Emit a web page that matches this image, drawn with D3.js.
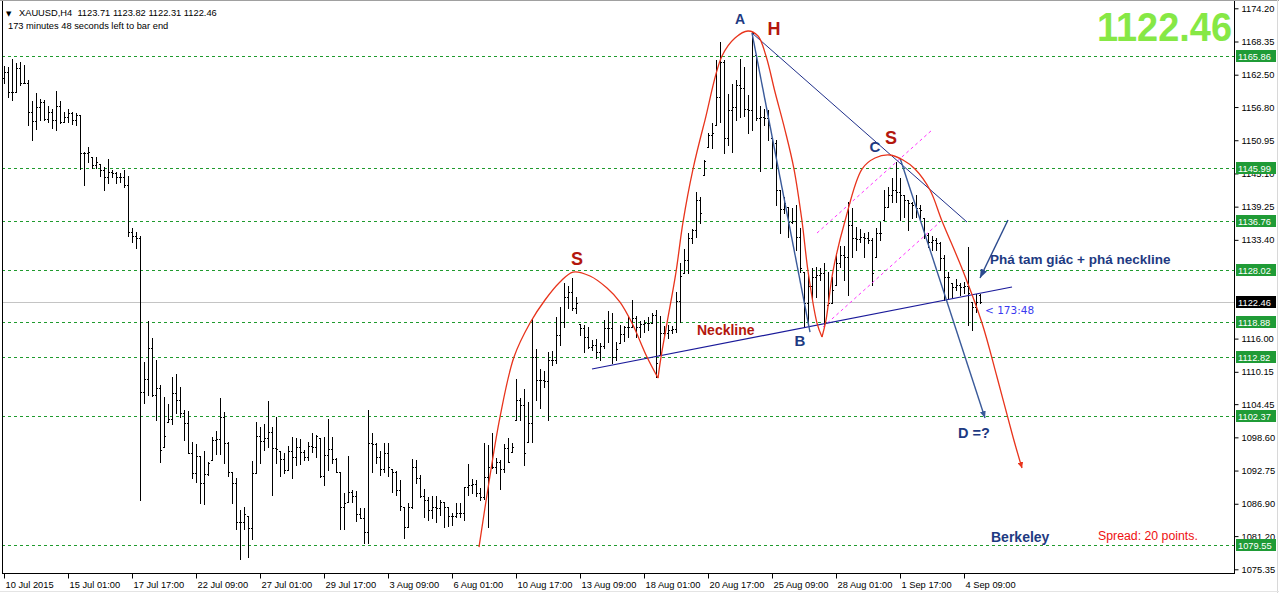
<!DOCTYPE html>
<html><head><meta charset="utf-8">
<script src="https://cdn.jsdelivr.net/npm/d3@7"></script>
<style>body{margin:0;background:#fff;overflow:hidden}svg{display:block}</style>
</head><body><svg id="c" width="1279" height="593"></svg>
<script>
// ---------- DATA (XAUUSD H4) ----------
const opens=[1161.92,1162.97,1159.45,1159.45,1163.68,1161.04,1161.04,1155.92,1154.34,1156.81,
1157.69,1154.69,1155.92,1154.51,1156.98,1154.16,1155.04,1155.75,1154.51,1155.40,
1148.70,1148.70,1147.99,1146.59,1146.76,1145.70,1144.47,1145.35,1145.18,1144.47,
1144.47,1143.06,1134.78,1134.07,1133.72,1106.59,1108.88,1114.34,1106.06,1107.29,
1096.89,1101.30,1101.83,1106.41,1105.18,1102.88,1101.12,1095.84,1092.31,1095.31,
1090.55,1092.14,1094.60,1098.13,1098.30,1102.18,1097.60,1092.49,1090.55,1083.68,
1083.68,1084.74,1082.62,1092.31,1098.83,1097.95,1098.48,1099.54,1096.72,1096.19,
1094.78,1092.84,1096.19,1095.13,1096.89,1096.01,1095.13,1097.07,1096.89,1098.48,
1091.78,1095.48,1096.54,1094.78,1092.49,1086.32,1087.20,1088.96,1088.26,1085.09,
1084.38,1081.92,1097.60,1097.42,1095.13,1093.02,1095.84,1093.02,1092.49,1089.32,
1086.32,1082.80,1086.32,1093.37,1091.43,1088.26,1087.56,1085.79,1086.32,1086.15,
1087.20,1086.32,1084.74,1084.74,1085.26,1085.26,1089.85,1090.20,1090.37,1088.79,
1088.08,1091.61,1093.37,1093.37,1094.25,1093.02,1096.72,1096.01,1101.65,1105.18,
1104.30,1097.78,1101.12,1112.75,1108.70,1108.70,1108.52,1112.22,1112.22,1116.63,
1118.92,1123.33,1124.21,1121.39,1118.57,1117.86,1116.28,1114.51,1114.87,1113.63,
1114.69,1117.86,1117.86,1112.75,1115.22,1116.81,1118.04,1118.04,1119.63,1118.04,
1118.57,1118.74,1118.74,1120.15,1113.10,1116.98,1116.98,1117.51,1117.69,1122.62,
1127.55,1129.85,1133.72,1135.13,1140.42,1144.82,1149.76,1151.87,1153.63,1158.57,
1164.74,1151.34,1156.28,1156.81,1160.68,1160.15,1156.45,1156.28,1165.97,1154.87,
1155.04,1154.87,1151.34,1150.46,1142.18,1138.83,1139.18,1136.54,1136.72,1133.90,
1127.73,1122.27,1125.26,1126.85,1127.20,1127.55,1121.92,1122.27,1125.44,1129.32,
1130.73,1130.37,1136.01,1133.72,1133.55,1133.90,1133.72,1133.37,1130.37,1134.60,
1136.89,1139.18,1141.30,1142.18,1141.83,1141.30,1140.42,1139.89,1139.54,1139.01,
1137.25,1134.25,1133.02,1133.37,1132.84,1130.20,1126.85,1125.79,1125.09,1125.44,
1125.09,1125.26,1122.44,1121.56,1123.71];
const highs=[1164.03,1163.85,1165.26,1164.56,1164.74,1164.21,1161.56,1157.86,1159.27,1158.21,
1158.04,1156.98,1156.45,1159.62,1157.86,1155.92,1156.45,1155.92,1155.75,1155.40,
1148.88,1149.76,1147.99,1147.99,1146.76,1146.23,1147.64,1145.70,1145.35,1145.18,
1145.70,1144.65,1135.48,1134.78,1134.07,1111.87,1119.10,1116.10,1112.22,1107.82,
1105.70,1104.47,1109.23,1109.76,1107.47,1103.41,1103.24,1097.78,1097.42,1095.31,
1096.19,1094.25,1098.66,1099.71,1105.53,1103.06,1097.78,1092.49,1091.43,1085.79,
1086.32,1084.74,1094.43,1101.30,1100.42,1100.95,1105.00,1100.42,1102.18,1096.19,
1095.84,1097.07,1098.66,1098.48,1098.30,1096.37,1097.78,1099.36,1099.01,1098.48,
1098.66,1101.83,1098.66,1094.96,1092.49,1088.79,1095.31,1089.32,1089.14,1086.15,
1086.15,1103.41,1099.36,1097.60,1096.19,1097.60,1097.60,1093.02,1092.67,1091.08,
1086.32,1087.03,1094.78,1094.60,1091.96,1089.49,1088.08,1088.26,1088.26,1087.56,
1087.20,1086.32,1085.26,1087.03,1087.03,1089.85,1093.90,1091.26,1091.08,1089.67,
1097.60,1097.25,1099.36,1094.96,1094.60,1097.42,1098.48,1097.60,1108.88,1105.53,
1107.11,1104.82,1119.45,1114.16,1110.64,1110.29,1113.63,1113.81,1119.80,1121.56,
1125.79,1125.26,1126.67,1123.33,1118.57,1118.39,1118.04,1115.75,1115.92,1115.22,
1119.27,1120.86,1120.51,1115.40,1118.39,1118.22,1119.80,1122.80,1119.98,1119.10,
1119.27,1119.80,1120.51,1121.04,1119.98,1118.22,1118.39,1118.22,1124.21,1129.32,
1131.78,1134.60,1135.31,1141.83,1140.95,1147.47,1152.22,1153.99,1165.09,1168.26,
1165.09,1159.10,1160.86,1161.56,1165.26,1163.85,1158.92,1170.02,1165.97,1156.98,
1156.45,1156.28,1151.34,1150.99,1142.18,1140.95,1139.18,1139.01,1139.54,1135.48,
1127.73,1127.55,1128.44,1128.61,1128.44,1129.32,1127.73,1126.85,1131.08,1132.31,
1132.31,1140.07,1139.01,1135.66,1135.31,1134.60,1134.78,1133.72,1135.48,1136.54,
1142.18,1142.71,1144.29,1147.11,1144.29,1141.30,1140.42,1140.07,1141.30,1139.54,
1137.25,1134.60,1134.07,1133.72,1133.02,1130.73,1127.73,1125.79,1126.50,1125.79,
1125.97,1132.14,1122.44,1123.85,1123.82];
const lows=[1161.04,1158.57,1158.04,1159.45,1160.68,1161.04,1153.63,1150.99,1152.93,1154.51,
1154.51,1154.16,1153.11,1152.75,1153.99,1154.16,1154.16,1153.81,1153.63,1145.88,
1143.06,1147.11,1146.06,1146.06,1144.65,1142.18,1143.41,1144.47,1143.41,1143.59,
1142.71,1134.07,1133.02,1131.96,1087.56,1104.65,1106.06,1105.88,1101.65,1094.25,
1096.89,1101.30,1100.95,1102.88,1102.18,1098.13,1095.84,1091.43,1090.73,1087.03,
1086.85,1091.96,1094.60,1095.66,1095.66,1094.07,1091.78,1087.03,1082.44,1077.16,
1082.44,1077.51,1080.68,1092.31,1094.07,1096.37,1096.89,1088.44,1094.07,1091.78,
1092.31,1092.84,1091.43,1093.72,1093.90,1094.60,1094.60,1096.01,1095.13,1091.61,
1090.20,1092.84,1094.07,1092.49,1082.44,1082.44,1087.20,1087.20,1083.85,1084.38,
1079.98,1079.98,1092.49,1094.07,1091.96,1092.49,1091.78,1088.96,1088.44,1085.79,
1080.86,1082.80,1086.15,1090.55,1088.08,1084.56,1084.03,1084.38,1083.68,1084.91,
1082.80,1082.97,1083.15,1084.56,1084.56,1084.03,1088.44,1088.79,1088.26,1087.56,
1087.73,1082.80,1093.19,1092.31,1089.49,1092.49,1094.25,1096.01,1101.65,1101.65,
1093.72,1097.78,1097.78,1105.18,1103.77,1107.47,1101.65,1111.34,1111.70,1114.87,
1118.04,1121.39,1121.04,1120.51,1116.63,1113.63,1114.34,1113.99,1112.58,1112.22,
1114.34,1115.40,1111.70,1112.22,1115.22,1115.57,1116.28,1118.04,1116.28,1116.28,
1117.16,1117.51,1118.74,1109.23,1113.10,1116.28,1116.10,1116.98,1117.16,1118.92,
1127.55,1127.55,1132.84,1133.90,1136.37,1144.82,1149.76,1149.58,1153.63,1154.16,
1148.70,1150.11,1148.88,1154.51,1155.04,1155.22,1152.22,1152.75,1154.51,1145.53,
1153.63,1150.99,1146.06,1139.54,1134.60,1138.13,1133.90,1136.37,1131.61,1127.73,
1118.04,1118.39,1122.80,1123.33,1126.32,1118.39,1121.92,1122.27,1125.44,1128.61,
1126.32,1123.68,1130.37,1131.61,1133.02,1130.37,1132.84,1125.44,1130.37,1133.37,
1136.89,1139.18,1140.07,1140.07,1136.89,1137.42,1135.13,1137.25,1137.42,1136.89,
1133.72,1132.14,1131.61,1131.61,1128.08,1122.80,1123.15,1123.33,1124.56,1123.68,
1124.03,1118.39,1117.51,1120.68,1122.31];
const closes=[1162.97,1159.45,1159.45,1163.68,1161.04,1161.04,1155.92,1154.34,1156.81,1157.69,
1154.69,1155.92,1154.51,1156.98,1154.16,1155.04,1155.75,1154.51,1155.40,1148.70,
1148.70,1148.88,1146.59,1147.11,1145.70,1144.47,1145.35,1145.18,1144.47,1144.47,
1143.06,1134.78,1134.07,1133.72,1106.59,1108.88,1114.34,1106.06,1107.29,1096.37,
1098.83,1101.83,1106.41,1105.18,1102.88,1101.12,1095.84,1092.31,1095.31,1090.55,
1092.14,1094.07,1098.13,1098.30,1102.18,1097.60,1092.49,1090.55,1083.68,1083.68,
1085.09,1082.62,1092.31,1098.83,1097.95,1098.48,1099.54,1096.72,1096.54,1094.78,
1092.84,1096.19,1095.13,1096.89,1096.01,1095.13,1097.07,1096.89,1098.83,1091.78,
1095.48,1096.54,1094.78,1092.49,1086.32,1087.03,1088.96,1088.26,1085.09,1084.38,
1081.92,1097.60,1097.42,1095.13,1093.02,1095.84,1093.37,1092.49,1089.32,1086.50,
1082.80,1086.32,1093.37,1091.43,1088.26,1087.56,1085.79,1086.32,1086.15,1087.20,
1086.32,1084.74,1084.74,1085.26,1085.26,1089.85,1090.20,1090.37,1088.79,1088.08,
1091.61,1093.37,1093.37,1094.25,1093.02,1096.72,1094.25,1096.89,1105.18,1104.30,
1095.84,1101.12,1112.75,1108.70,1108.70,1108.52,1112.22,1112.22,1116.63,1118.92,
1123.33,1124.21,1121.39,1122.27,1117.86,1116.28,1114.51,1114.87,1113.63,1114.69,
1117.86,1117.86,1112.75,1114.16,1116.81,1118.04,1118.04,1119.63,1118.04,1118.57,
1118.74,1118.74,1120.15,1111.70,1116.98,1116.98,1117.51,1117.69,1122.62,1127.03,
1129.85,1133.72,1135.13,1140.42,1138.13,1147.29,1151.87,1152.22,1158.57,1164.74,
1151.34,1156.28,1156.81,1160.68,1160.15,1156.45,1156.28,1169.85,1154.87,1155.04,
1154.87,1153.63,1150.46,1142.18,1138.83,1139.89,1136.54,1136.72,1133.90,1128.44,
1122.27,1125.26,1126.85,1127.20,1127.55,1118.92,1122.27,1124.56,1129.32,1130.73,
1130.37,1136.01,1133.72,1133.55,1133.90,1133.72,1133.37,1127.55,1134.60,1134.60,
1139.18,1141.30,1142.18,1141.83,1141.30,1140.42,1139.89,1139.54,1139.01,1138.66,
1134.25,1133.02,1133.37,1132.84,1130.20,1126.85,1126.85,1125.09,1125.44,1125.09,
1125.26,1124.03,1121.56,1122.44,1122.46];

const dateLabels=["10 Jul 2015","15 Jul 01:00","17 Jul 17:00","22 Jul 09:00","27 Jul 01:00","29 Jul 17:00","3 Aug 09:00","6 Aug 01:00","10 Aug 17:00","13 Aug 09:00","18 Aug 01:00","20 Aug 17:00","25 Aug 09:00","28 Aug 01:00","1 Sep 17:00","4 Sep 09:00"];
const dateTickBars=[0,16,32,48,64,80,96,112,128,144,160,176,192,208,224,240];
const priceTicks=[1174.20,1168.35,1162.50,1156.80,1150.95,1145.10,1139.25,1133.40,1116.00,1110.15,1104.45,1098.60,1092.75,1086.90,1081.20,1075.35];
const levels=[1165.86,1145.99,1136.76,1128.02,1118.88,1112.82,1102.37,1079.55];
const bid=1122.46;

// annotation anchors in (bar index, price)
const arcLeftS=[[118.75,1079.27],[121.25,1090.73],[124,1102.18],[127.5,1112.75],[131.5,1118.74],[135.25,1122.80],[139,1125.97],[142.25,1127.73],[146.5,1127.03],[150.75,1124.91],[154,1122.44],[157,1118.74],[160.75,1112.75],[163.5,1109.05]];
const arcHead=[[163.5,1109.05],[164.25,1112.75],[165.75,1118.74],[168,1127.73],[169.75,1136.54],[172.25,1145.88],[175.25,1154.51],[179.5,1165.79],[182.75,1168.96],[186,1170.20],[188.5,1169.32],[190.5,1165.79],[192.75,1159.45],[195.25,1152.75],[197.5,1145.88],[199.5,1136.72],[201,1127.91],[203.25,1118.74],[204.5,1116.28]];
const arcRightS=[[204.5,1116.28],[205.5,1119.27],[207.25,1127.91],[210.25,1136.72],[214.5,1145.88],[217.75,1147.82],[221.5,1148.35],[224.75,1147.47],[227.75,1145.88],[231.5,1142.18],[234.5,1136.72],[239.75,1127.91],[244.5,1118.74],[248.25,1109.23],[252.25,1098.66],[254.5,1093.19]];
const neckline=[[147,1110.64],[252,1125.09]];
const triangleTop=[[187,1169.85],[240.75,1136.54]];
const legAB=[[187,1169.85],[201.5,1117.16]];
const legCD=[[224,1147.82],[245.25,1102.00]];
const channelUp=[[203.25,1134.60],[232,1152.75]];
const channelLow=[[204.75,1118.04],[234,1136.54]];
const breakArrow=[[251,1136.89],[244,1126.67]];

// ---------- DRAW ----------
const svg=d3.select('#c');
const plotL=2,plotR=1234,plotT=1,plotB=573;
const x=d3.scaleLinear().domain([0,244]).range([4,980]);
const y=d3.scaleLinear().domain([1075.35,1174.20]).range([569.3,8.3]);
const F="'Liberation Sans', Arial, sans-serif";

const defs=svg.append('defs');
defs.append('clipPath').attr('id','clip').append('rect').attr('x',plotL+1).attr('y',plotT+1).attr('width',plotR-plotL-1).attr('height',plotB-plotT-1);
function marker(id,color,w,h){
  defs.append('marker').attr('id',id).attr('markerUnits','userSpaceOnUse').attr('markerWidth',w).attr('markerHeight',h)
    .attr('refX',w).attr('refY',h/2).attr('orient','auto')
    .append('path').attr('d',`M0,0L${w},${h/2}L0,${h}Z`).attr('fill',color);
}
marker('arB','#2b4a8e',9,7);
marker('arD','#3a5a9a',7,6);
marker('arR','#e8341c',6,6);

svg.append('rect').attr('width',1279).attr('height',593).attr('fill','#fff');

const plot=svg.append('g').attr('clip-path','url(#clip)');
plot.selectAll('line.lv').data(levels).join('line').attr('class','lv')
  .attr('x1',plotL).attr('x2',plotR).attr('y1',d=>Math.round(y(d))+0.5).attr('y2',d=>Math.round(y(d))+0.5)
  .attr('stroke','#1f9a2e').attr('stroke-dasharray','3,3').attr('stroke-width',1);
plot.append('line').attr('x1',plotL).attr('x2',plotR).attr('y1',Math.round(y(bid))+0.5).attr('y2',Math.round(y(bid))+0.5)
  .attr('stroke','#c4c4c4').attr('stroke-width',1);

const idx=d3.range(closes.length);
plot.append('g').selectAll('path').data(idx).join('path')
  .attr('d',i=>{const cx=Math.round(x(i));const X=cx+0.5;
    const yh=Math.round(y(highs[i])), yl=Math.round(y(lows[i]));
    const yo=Math.round(y(opens[i]))+0.5, yc=Math.round(y(closes[i]))+0.5;
    return `M${X},${yh}V${yl+1}M${cx-1},${yo}H${cx}M${cx+1},${yc}H${cx+2}`;})
  .attr('stroke','#000').attr('stroke-width',1).attr('fill','none').attr('shape-rendering','crispEdges');

const ln=d3.line().x(d=>x(d[0])).y(d=>y(d[1]));
const cv=d3.line().x(d=>x(d[0])).y(d=>y(d[1])).curve(d3.curveCatmullRom.alpha(0.5));
[channelUp,channelLow].forEach(c=>plot.append('path').attr('d',ln(c)).attr('stroke','#ff33ff').attr('stroke-width',1).attr('stroke-dasharray','3,3').attr('fill','none'));
plot.append('path').attr('d',ln(neckline)).attr('stroke','#1a1a9a').attr('stroke-width',1.2).attr('fill','none');
plot.append('path').attr('d',ln(triangleTop)).attr('stroke','#1f2f8a').attr('stroke-width',1).attr('fill','none');
plot.append('path').attr('d',ln(legAB)).attr('stroke','#3a5a9a').attr('stroke-width',1.4).attr('fill','none');
plot.append('path').attr('d',ln(legCD)).attr('stroke','#3a5a9a').attr('stroke-width',1.4).attr('fill','none').attr('marker-end','url(#arD)');
plot.append('path').attr('d',ln(breakArrow)).attr('stroke','#2b4a8e').attr('stroke-width',1.4).attr('fill','none').attr('marker-end','url(#arB)');
plot.append('path').attr('d',cv(arcLeftS)).attr('stroke','#e8341c').attr('stroke-width',1.3).attr('fill','none');
plot.append('path').attr('d',cv(arcHead)).attr('stroke','#e8341c').attr('stroke-width',1.3).attr('fill','none');
plot.append('path').attr('d',cv(arcRightS)).attr('stroke','#e8341c').attr('stroke-width',1.3).attr('fill','none').attr('marker-end','url(#arR)');

const navy='#1e3a82', dred='#b3170d';
function lab(txt,i,p,size,color,anchor){
  plot.append('text').attr('x',x(i)).attr('y',y(p)).text(txt).attr('font-family',F).attr('font-weight','bold')
   .attr('font-size',size).attr('fill',color).attr('text-anchor',anchor||'middle');
}
lab('A',184,1171.43,14,navy);
lab('H',192.5,1169.49,18,dred);
lab('S',143.25,1128.96,18,dred);
lab('S',221.75,1150.29,18,dred);
lab('C',217.75,1148.88,15,navy);
lab('B',199,1114.69,15,navy);
lab('Neckline',173.25,1116.63,14,dred,'start');
lab('D =?',238.5,1098.48,14.5,navy,'start');
lab('Phá tam giác + phá neckline',246.5,1129.14,13.5,navy,'start');
plot.append('text').attr('x',x(245.25)).attr('y',y(1120.33)).text('< 173:48').attr('font-family',"'DejaVu Sans',sans-serif").attr('font-size',10.5).attr('fill','#3a3af0');

svg.append('line').attr('x1',0).attr('x2',1279).attr('y1',0.5).attr('y2',0.5).attr('stroke','#a0a0a0');
svg.append('line').attr('x1',plotL+0.5).attr('x2',plotL+0.5).attr('y1',plotT).attr('y2',plotB+1).attr('stroke','#000');
svg.append('line').attr('x1',plotR+0.5).attr('x2',plotR+0.5).attr('y1',plotT).attr('y2',plotB+1).attr('stroke','#000');
svg.append('line').attr('x1',plotL).attr('x2',plotR+1).attr('y1',plotB+0.5).attr('y2',plotB+0.5).attr('stroke','#000');
svg.append('line').attr('x1',1277.5).attr('x2',1277.5).attr('y1',0).attr('y2',593).attr('stroke','#d8d8d8');
svg.append('line').attr('x1',0).attr('x2',1279).attr('y1',591.5).attr('y2',591.5).attr('stroke','#e4e4e4');

const ya=svg.append('g').attr('transform',`translate(${plotR+0.5},0)`)
 .call(d3.axisRight(y).tickValues(priceTicks).tickSize(4).tickPadding(3).tickFormat(d3.format('.2f')));
ya.select('.domain').remove();
ya.selectAll('text').attr('font-family',F).attr('font-size',9.3).attr('fill','#000');
ya.selectAll('line').attr('stroke','#000');

const xa=svg.append('g').attr('transform',`translate(0,${plotB+0.5})`)
 .call(d3.axisBottom(x).tickValues(dateTickBars).tickSize(5).tickPadding(3).tickFormat((d,i)=>dateLabels[i]));
xa.select('.domain').remove();
xa.selectAll('text').attr('text-anchor','start').attr('x',1).attr('font-family',F).attr('font-size',9.3).attr('fill','#000');
xa.selectAll('line').attr('stroke','#000');

const lb=svg.append('g');
levels.forEach(v=>{
  const yy=Math.round(y(v));
  lb.append('rect').attr('x',plotR+2).attr('y',yy-6).attr('width',40).attr('height',12).attr('fill','#1f9b36');
  lb.append('text').attr('x',plotR+4).attr('y',yy+3.5).text(v.toFixed(2)).attr('font-family',F).attr('font-size',9.3).attr('fill','#fff');
});
{
  const yy=Math.round(y(bid));
  lb.append('rect').attr('x',plotR+2).attr('y',yy-6).attr('width',40).attr('height',12).attr('fill','#000');
  lb.append('text').attr('x',plotR+4).attr('y',yy+3.5).text(bid.toFixed(2)).attr('font-family',F).attr('font-size',9.3).attr('fill','#fff');
}

svg.append('text').attr('x',6).attr('y',16).text('▼').attr('font-family',"'DejaVu Sans',sans-serif").attr('font-size',7).attr('fill','#000');
svg.append('text').attr('x',19).attr('y',16).text('XAUUSD,H4  1123.71 1123.82 1122.31 1122.46').attr('font-family',F).attr('font-size',9.3).attr('fill','#000').attr('xml:space','preserve');
svg.append('text').attr('x',8).attr('y',29).text('173 minutes 48 seconds left to bar end').attr('font-family',F).attr('font-size',9.3).attr('fill','#000');
svg.append('text').attr('x',1232).attr('y',41).attr('text-anchor','end').text(bid.toFixed(2))
  .attr('font-family',F).attr('font-weight','bold').attr('font-size',41).attr('fill','#86e845')
  .attr('textLength',135).attr('lengthAdjust','spacingAndGlyphs');
svg.append('text').attr('x',991).attr('y',542).text('Berkeley').attr('font-family',F).attr('font-weight','bold').attr('font-size',14).attr('fill',navy);
svg.append('text').attr('x',1098).attr('y',540).text('Spread: 20 points.').attr('font-family',F).attr('font-size',12.3).attr('fill','#ee1111');
</script></body></html>
